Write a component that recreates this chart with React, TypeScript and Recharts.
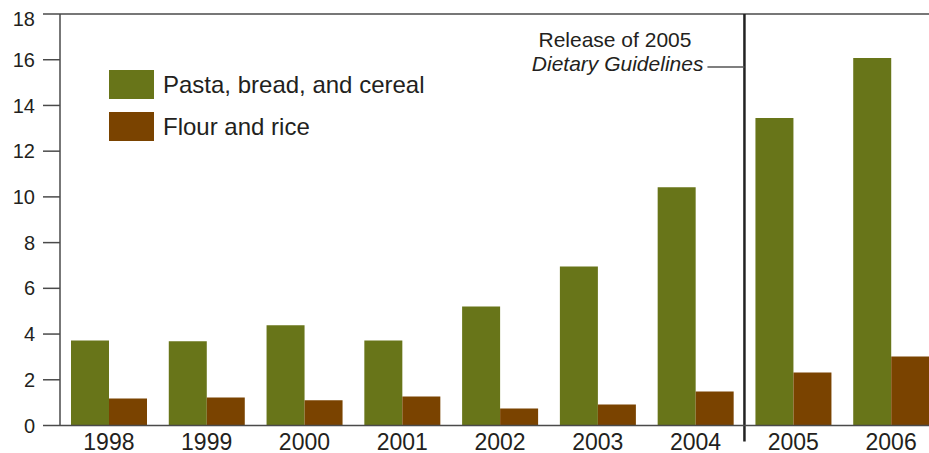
import { BarChart, Bar, XAxis, YAxis, Legend, ReferenceLine } from 'recharts';

const years = ['1998', '1999', '2000', '2001', '2002', '2003', '2004', '2005', '2006'];
const pastaBreadCereal = [3.72, 3.68, 4.38, 3.72, 5.21, 6.96, 10.42, 13.45, 16.07];
const flourRice = [1.18, 1.23, 1.1, 1.27, 0.74, 0.92, 1.49, 2.32, 3.02];
const seriesNames = ['Pasta, bread, and cereal', 'Flour and rice'];
const yTicks = [0, 2, 4, 6, 8, 10, 12, 14, 16, 18];

const GREEN = '#687519';
const BROWN = '#7a4300';
const INK = '#231f20';
const AXIS = '#4a4a4a';
const FONT = '"Liberation Sans", Arial, Helvetica, sans-serif';

const data = years.map((year, i) => ({
  year,
  pasta: pastaBreadCereal[i],
  flour: flourRice[i],
}));

function YTick(props: any) {
  const { x, y, payload } = props;
  // the top label sits a little lower in the original
  const shift = payload.value === 18 ? 5 : 0;
  return (
    <text x={x} y={y + shift} dy="0.355em" textAnchor="end" fill={INK} fontSize={20} fontFamily={FONT}>
      {payload.value}
    </text>
  );
}

function LegendBox(props: any) {
  const items = [...(props.payload || [])].sort(
    (a: any, b: any) => seriesNames.indexOf(a.value) - seriesNames.indexOf(b.value)
  );
  return (
    <div style={{ fontFamily: FONT, fontSize: 24, color: INK }}>
      {items.map((it: any) => (
        <div key={it.value} style={{ display: 'flex', alignItems: 'center', height: 29, marginBottom: 13 }}>
          <span style={{ display: 'inline-block', width: 45, height: 29, background: it.color, marginRight: 9 }} />
          <span style={{ lineHeight: '29px' }}>{it.value}</span>
        </div>
      ))}
    </div>
  );
}

function ReleaseLine(props: any) {
  const { x1, y1, x2, y2 } = props;
  const top = Math.min(y1, y2);
  const bottom = Math.max(y1, y2) + 16;
  return <line x1={x1} y1={top} x2={x2} y2={bottom} stroke="#222" strokeWidth={2.5} />;
}

function ReleaseLabel(props: any) {
  const { viewBox } = props;
  if (!viewBox) return null;
  const x = viewBox.x;
  const top = viewBox.y;
  return (
    <g fontFamily={FONT} fontSize={21} fill={INK}>
      <text x={x - 53} y={top + 33} textAnchor="end">Release of 2005</text>
      <text x={x - 41} y={top + 57} textAnchor="end" fontStyle="italic">Dietary Guidelines</text>
      <line x1={x - 37} y1={top + 53} x2={x} y2={top + 53} stroke="#555" strokeWidth={1.5} />
    </g>
  );
}

export default function App() {
  return (
    <div style={{ position: 'absolute', left: 0, top: 0, width: 929, height: 453, overflow: 'hidden', background: '#fff' }}>
      <BarChart
        width={960}
        height={453}
        data={data}
        margin={{ top: 14, right: 20, bottom: 0, left: 0 }}
        barCategoryGap={11}
        barGap={0}
      >
        <XAxis
          dataKey="year"
          height={27.5}
          tickLine={false}
          tickMargin={2}
          axisLine={{ stroke: AXIS, strokeWidth: 1.5 }}
          tick={{ fill: INK, fontSize: 23, fontFamily: FONT }}
        />
        <YAxis
          width={60}
          domain={[0, 18]}
          ticks={yTicks}
          interval={0}
          tickSize={17}
          tickMargin={8}
          axisLine={{ stroke: AXIS, strokeWidth: 1.5 }}
          tickLine={{ stroke: AXIS, strokeWidth: 1.5 }}
          tick={<YTick />}
        />
        <ReferenceLine y={18} stroke={AXIS} strokeWidth={1.5} />
        <Legend
          layout="vertical"
          align="center"
          verticalAlign="middle"
          content={<LegendBox />}
          wrapperStyle={{ left: 109, top: 70, width: 'auto' }}
        />
        <Bar dataKey="pasta" name={seriesNames[0]} fill={GREEN} isAnimationActive={false} />
        <Bar dataKey="flour" name={seriesNames[1]} fill={BROWN} isAnimationActive={false} />
        <ReferenceLine
          x="2005"
          position="start"
          stroke="#222"
          strokeWidth={2.5}
          shape={<ReleaseLine />}
          label={<ReleaseLabel />}
        />
      </BarChart>
    </div>
  );
}
